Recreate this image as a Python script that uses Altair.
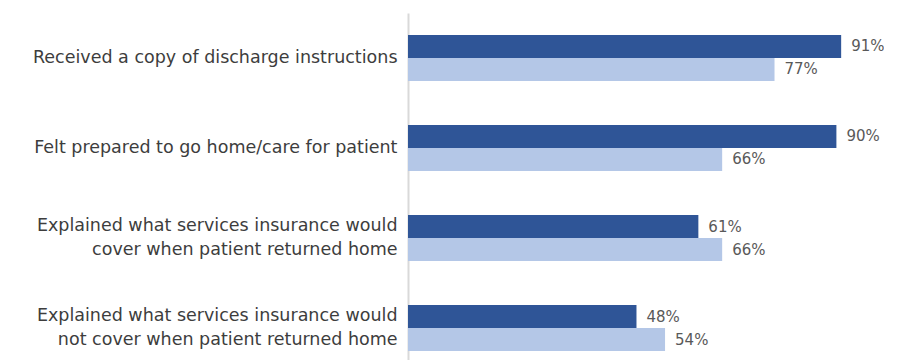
import altair as alt
import pandas as pd

categories = [
    "Received a copy of discharge instructions",
    "Felt prepared to go home/care for patient",
    "Explained what services insurance would\ncover when patient returned home",
    "Explained what services insurance would\nnot cover when patient returned home",
]
series = ["Group 1", "Group 2"]
values_1 = [91, 90, 61, 48]
values_2 = [77, 66, 66, 54]

rows = []
for c, a, b in zip(categories, values_1, values_2):
    rows.append({"category": c, "series": series[0], "value": a, "label": f"{a}%"})
    rows.append({"category": c, "series": series[1], "value": b, "label": f"{b}%"})
df = pd.DataFrame(rows)

y = alt.Y(
    "category:N",
    sort=categories,
    title=None,
    scale=alt.Scale(paddingInner=0.4889, paddingOuter=0.2444),
    axis=alt.Axis(
        labelExpr="split(datum.label, '\\n')",
        labelFont="DejaVu Sans",
        labelFontSize=17.5,
        labelColor="#3d3d3d",
        labelLineHeight=24,
        labelLimit=420,
        labelPadding=11,
        labelOffset={
            "condition": {"test": "indexof(datum.value, '\\n') >= 0", "value": -12},
            "value": 0,
        },
        ticks=False,
        domainColor="#d9d9d9",
        domainWidth=2,
        labelAlign="right",
        labelBaseline="middle",
    ),
)
yoff = alt.YOffset("series:N", sort=series, scale=alt.Scale(paddingInner=0, paddingOuter=0))
x = alt.X("value:Q", scale=alt.Scale(domain=[0, 100]), axis=None)

bars = alt.Chart(df).mark_bar().encode(
    x=x,
    y=y,
    yOffset=yoff,
    color=alt.Color(
        "series:N",
        sort=series,
        scale=alt.Scale(domain=series, range=["#2f5597", "#b4c7e7"]),
        legend=None,
    ),
)

text = alt.Chart(df).mark_text(
    align="left", baseline="middle", dx=10, font="DejaVu Sans", fontSize=15, color="#595959"
).encode(x=x, y=y, yOffset=yoff, text="label:N")

chart = (
    alt.layer(bars, text)
    .properties(
        width=476,
        height=360,
        autosize="none",
        padding={"left": 400, "top": 5, "right": 0, "bottom": 0},
    )
    .configure_view(stroke=None)
)

chart.save("out.html", embed_options={"renderer": "svg", "actions": False})
